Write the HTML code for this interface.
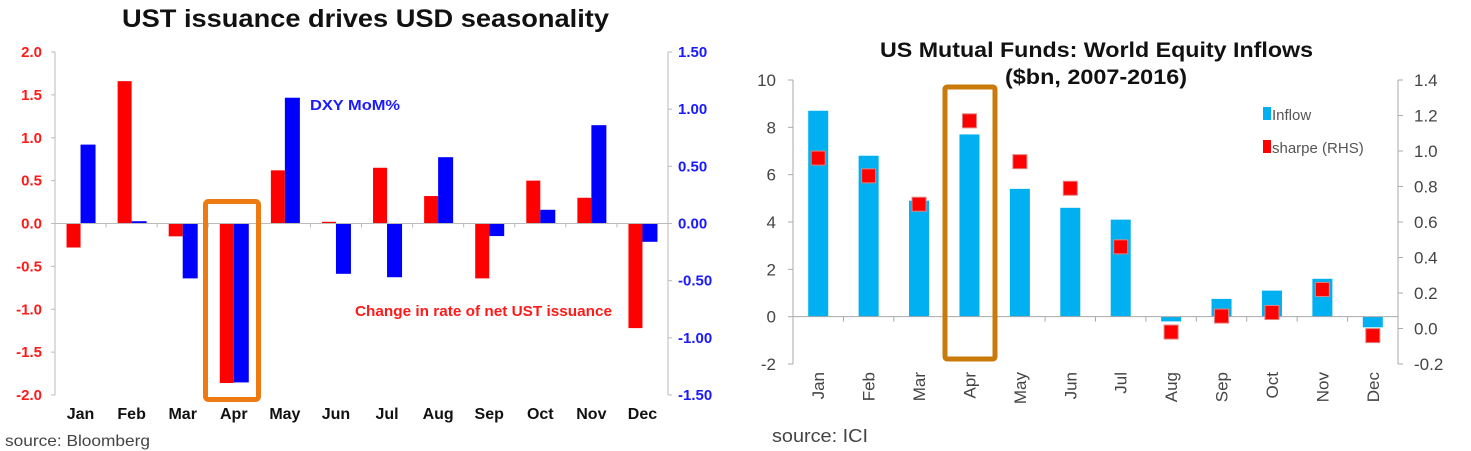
<!DOCTYPE html>
<html><head><meta charset="utf-8"><style>
body{margin:0;background:#fff;width:1471px;height:451px;overflow:hidden;font-family:"Liberation Sans",sans-serif}
svg{position:absolute;left:0;top:0}
</style></head><body>
<svg id="c" width="1471" height="451" xmlns="http://www.w3.org/2000/svg">
<text x="122" y="27" textLength="487" lengthAdjust="spacingAndGlyphs" font-size="25" font-weight="bold" fill="#111">UST issuance drives USD seasonality</text>
<text x="5" y="446" textLength="145" lengthAdjust="spacingAndGlyphs" font-size="16" fill="#444">source: Bloomberg</text>
<text x="310" y="110" textLength="90" lengthAdjust="spacingAndGlyphs" font-size="15" font-weight="bold" fill="#1a1aff">DXY MoM%</text>
<text x="355" y="316" textLength="257" lengthAdjust="spacingAndGlyphs" font-size="15" font-weight="bold" fill="#ff1a1a">Change in rate of net UST issuance</text>
<text x="880" y="57" textLength="433" lengthAdjust="spacingAndGlyphs" font-size="21" font-weight="bold" fill="#111">US Mutual Funds: World Equity Inflows</text>
<text x="1005" y="84" textLength="182" lengthAdjust="spacingAndGlyphs" font-size="21" font-weight="bold" fill="#111">($bn, 2007-2016)</text>
<text x="772" y="442" textLength="96" lengthAdjust="spacingAndGlyphs" font-size="18" fill="#444">source: ICI</text>
<rect x="1263" y="107" width="8" height="13" fill="#00b0f0"/>
<text x="1272" y="120" font-size="15" fill="#555">Inflow</text>
<rect x="1263" y="140" width="8" height="13" fill="#ff0000"/>
<text x="1272" y="153" font-size="15" fill="#555">sharpe (RHS)</text>
</svg>
<script>
const months=["Jan","Feb","Mar","Apr","May","Jun","Jul","Aug","Sep","Oct","Nov","Dec"];
const ustIssuance=[-0.28,1.66,-0.15,-1.86,0.62,0.02,0.65,0.32,-0.64,0.5,0.3,-1.22];
const dxyMoM=[0.69,0.02,-0.48,-1.39,1.10,-0.44,-0.47,0.58,-0.11,0.12,0.86,-0.16];
const leftTicks=["2.0","1.5","1.0","0.5","0.0","-0.5","-1.0","-1.5","-2.0"];
const rightTicks=["1.50","1.00","0.50","0.00","-0.50","-1.00","-1.50"];
const inflow=[8.7,6.8,4.9,7.7,5.4,4.6,4.1,-0.2,0.75,1.1,1.6,-0.45];
const sharpe=[0.96,0.86,0.70,1.17,0.94,0.79,0.46,-0.02,0.07,0.09,0.22,-0.04];
const inflowTicks=[10,8,6,4,2,0,-2];
const sharpeTicks=["1.4","1.2","1.0","0.8","0.6","0.4","0.2","0.0","-0.2"];

const svg=document.getElementById('c');
const NS="http://www.w3.org/2000/svg";
function mk(tag,attrs,parent){const e=document.createElementNS(NS,tag);for(const k in attrs)e.setAttribute(k,attrs[k]);(parent||svg).appendChild(e);return e;}

// Left chart
const L={x0:55,x1:668,yTop:52,yBot:395};
const yL=v=>L.yTop+(2-v)/4*(L.yBot-L.yTop);
const yR=v=>L.yTop+(1.5-v)/3*(L.yBot-L.yTop);
const bw=(L.x1-L.x0)/12;
const xL=i=>L.x0+bw*(i+0.5);
let e;
e=mk('line',{x1:L.x0,y1:L.yTop,x2:L.x0,y2:L.yBot,stroke:'#bbb'});


e=mk('line',{x1:L.x1,y1:L.yTop,x2:L.x1,y2:L.yBot,stroke:'#bbb'});


leftTicks.forEach(t=>{const y=yL(parseFloat(t));
 mk('line',{x1:L.x0-4,y1:y,x2:L.x0,y2:y,stroke:'#bbb'});
 e=mk('text',{x:42,y:y+5,'text-anchor':'end','font-size':15,'font-weight':'bold',fill:'#ff1a1a'});e.textContent=t;
 
 });
rightTicks.forEach(t=>{const y=yR(parseFloat(t));
 mk('line',{x1:L.x1,y1:y,x2:L.x1+4,y2:y,stroke:'#bbb'});
 e=mk('text',{x:678,y:y+5,'font-size':15,'font-weight':'bold',fill:'#1a1aff'});e.textContent=t;
 
 });
months.forEach((m,i)=>{const c=xL(i);
 const r=ustIssuance[i],b=dxyMoM[i];
 e=mk('rect',{x:c-14,y:Math.min(yL(r),yL(0)),width:14,height:Math.abs(yL(r)-yL(0)),fill:'#ff0000'});
 
 
 e=mk('rect',{x:c,y:Math.min(yR(b),yR(0)),width:15,height:Math.abs(yR(b)-yR(0)),fill:'#0000ff'});
 
 
 e=mk('text',{x:c,y:419,'text-anchor':'middle','font-size':16,'font-weight':'bold',fill:'#111'});e.textContent=m;
 
 
 mk('line',{x1:L.x0+bw*i,y1:yL(0),x2:L.x0+bw*i,y2:yL(0)+4,stroke:'#bbb'});
});
e=mk('line',{x1:L.x0,y1:yL(0),x2:L.x1,y2:yL(0),stroke:'#bbb'});


e=mk('rect',{x:205.5,y:201.5,width:53,height:198,rx:3,fill:'none',stroke:'#ee7a12','stroke-width':5});



// Right chart
const R={x0:793,x1:1398,yTop:80,yBot:364};
const yI=v=>R.yTop+(10-v)/12*(R.yBot-R.yTop);
const yS=v=>R.yTop+(1.4-v)/1.6*(R.yBot-R.yTop);
const rw=(R.x1-R.x0)/12;
const xR=i=>R.x0+rw*(i+0.5);
e=mk('line',{x1:R.x0,y1:R.yTop,x2:R.x0,y2:R.yBot,stroke:'#aaa'});


e=mk('line',{x1:R.x1,y1:R.yTop,x2:R.x1,y2:R.yBot,stroke:'#aaa'});


inflowTicks.forEach(t=>{const y=yI(t);
 mk('line',{x1:R.x0-5,y1:y,x2:R.x0,y2:y,stroke:'#aaa'});
 e=mk('text',{x:776,y:y+6,'text-anchor':'end','font-size':17,fill:'#444'});e.textContent=t;
 
 });
sharpeTicks.forEach(t=>{const y=yS(parseFloat(t));
 mk('line',{x1:R.x1,y1:y,x2:R.x1+5,y2:y,stroke:'#aaa'});
 e=mk('text',{x:1414,y:y+6,'font-size':17,fill:'#444'});e.textContent=t;
 
 });
months.forEach((m,i)=>{const c=xR(i);const v=inflow[i];
 e=mk('rect',{x:c-10,y:Math.min(yI(v),yI(0)),width:20,height:Math.abs(yI(v)-yI(0)),fill:'#00b0f0'});
 
 
 mk('line',{x1:R.x0+rw*i,y1:yI(0),x2:R.x0+rw*i,y2:yI(0)+5,stroke:'#aaa'});
 e=mk('text',{x:0,y:0,'text-anchor':'end','font-size':17,fill:'#444',transform:`translate(${c+6},${372}) rotate(-90)`});e.textContent=m;
 
 
});
e=mk('line',{x1:R.x0,y1:yI(0),x2:R.x1,y2:yI(0),stroke:'#aaa'});


months.forEach((m,i)=>{const c=xR(i);const y=yS(sharpe[i]);
 e=mk('rect',{x:c-7,y:y-7,width:14,height:14,fill:'#ff0000',stroke:'#e08080','stroke-width':1});
 
 
});
e=mk('rect',{x:945,y:87,width:50,height:272,rx:2,fill:'none',stroke:'#c87a0a','stroke-width':5});


</script>
</body></html>
